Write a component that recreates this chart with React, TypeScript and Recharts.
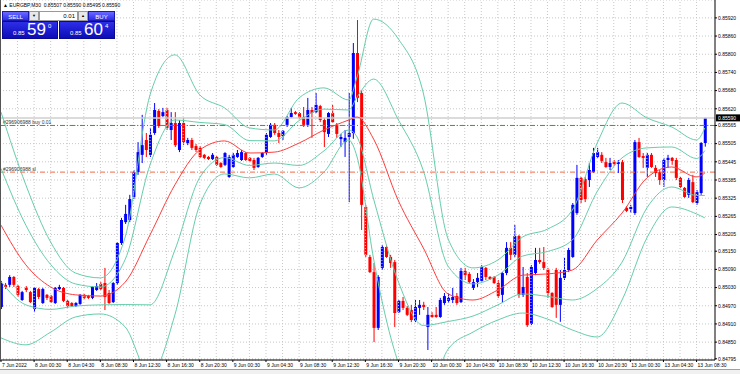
import React from 'react';
import { ComposedChart, Bar, Line, XAxis, YAxis, CartesianGrid, ReferenceLine } from 'recharts';

// Prices stored in points (1 = 0.00001)
const opens = [84966,85039,85039,85065,85035,84989,85029,85015,84959,85025,84979,85006,85002,84979,85025,85029,84986,84979,84969,84976,85006,85002,84996,85022,85042,85045,85012,84982,85045,85177,85246,85253,85329,85411,85468,85517,85468,85540,85613,85596,85616,85550,85573,85484,85573,85507,85517,85497,85491,85468,85461,85454,85461,85441,85435,85395,85428,85461,85451,85474,85458,85451,85428,85461,85474,85527,85567,85540,85530,85567,85593,85609,85606,85593,85567,85616,85609,85629,85583,85537,85606,85567,85520,85510,85527,85540,85804,85672,85296,85131,85081,84897,85095,85164,85131,85114,84949,84986,84963,84956,84920,84963,84973,84900,84940,84940,84933,84979,84986,84989,85002,84982,85085,85075,85029,85048,85052,85095,85065,85065,85045,85006,85078,85161,85138,85200,85006,85065,84910,85078,85121,85114,85088,85012,85088,84973,85062,85088,85131,85276,85392,85388,85385,85411,85461,85468,85444,85428,85444,85438,85444,85293,85289,85276,85510,85464,85425,85468,85425,85411,85385,85451,85458,85451,85392,85359,85336,85378,85309,85342,85507];
const highs = [85052,85045,85071,85068,85039,85019,85035,85019,85032,85029,85029,85009,85006,85032,85039,85032,84989,84982,84982,85009,85009,85006,85035,85045,85048,85095,85022,85048,85180,85260,85303,85336,85418,85510,85600,85540,85557,85639,85619,85623,85623,85609,85609,85583,85590,85524,85524,85504,85497,85471,85464,85474,85464,85444,85477,85468,85474,85484,85484,85477,85461,85458,85461,85477,85540,85573,85573,85550,85550,85596,85623,85613,85609,85626,85656,85626,85672,85633,85590,85609,85633,85573,85537,85550,85672,85837,85913,85682,85303,85138,85111,85071,85171,85171,85138,85121,84989,84999,84969,84973,84989,84989,84983,84966,84949,84966,84996,85012,85012,85029,85012,85095,85095,85081,85058,85078,85104,85098,85068,85068,85055,85081,85180,85180,85237,85204,85098,85078,85104,85161,85161,85164,85095,85015,85095,85088,85128,85161,85309,85435,85395,85395,85441,85491,85491,85477,85458,85458,85451,85451,85451,85299,85303,85517,85524,85474,85474,85474,85434,85418,85458,85468,85461,85458,85395,85362,85392,85402,85352,85510,85590];
const lows = [84959,85025,85032,85032,84999,84986,85015,84979,84949,84992,84976,84989,84979,84976,85022,84982,84963,84966,84966,84973,84992,84992,84992,85019,85022,84956,84976,84979,85039,85171,85240,85246,85322,85402,85441,85461,85461,85534,85557,85593,85550,85517,85494,85477,85500,85500,85484,85477,85458,85454,85451,85451,85431,85425,85431,85392,85425,85458,85448,85448,85444,85418,85425,85458,85468,85524,85534,85507,85517,85560,85590,85600,85586,85560,85560,85524,85606,85576,85494,85527,85573,85524,85494,85461,85312,85521,85642,85220,85131,85078,84850,84890,85088,85128,85095,84900,84946,84956,84936,84916,84916,84940,84956,84824,84930,84930,84930,84973,84979,84979,84973,84979,85055,85045,85022,85032,85048,85055,85055,85042,84996,84979,85071,85121,85131,84996,84999,84900,84906,85071,85108,85088,84996,84963,84930,84917,85055,85081,85128,85270,85309,85312,85362,85408,85458,85441,85425,85418,85431,85408,85309,85279,85276,85270,85458,85425,85395,85425,85395,85369,85362,85425,85435,85385,85359,85326,85326,85309,85303,85336,85495];
const closes = [85045,85032,85065,85039,85006,85015,85022,84982,85029,84999,85025,84996,84982,85029,85032,84986,84969,84969,84979,85006,84996,84996,85032,85035,85025,84999,84979,85045,85177,85253,85273,85322,85411,85477,85500,85484,85534,85616,85563,85609,85557,85573,85500,85573,85510,85517,85491,85484,85461,85458,85454,85468,85435,85428,85474,85461,85468,85474,85477,85451,85448,85425,85458,85474,85534,85567,85540,85527,85547,85593,85606,85603,85590,85567,85616,85606,85633,85583,85543,85606,85576,85537,85527,85524,85540,85804,85656,85303,85138,85081,84897,85065,85164,85131,85111,84946,84986,84963,84940,84923,84966,84973,84966,84940,84933,84933,84989,85002,84996,84999,84979,85085,85071,85048,85048,85062,85098,85065,85058,85045,85002,85078,85161,85138,85200,85006,85032,84906,85098,85121,85114,85095,85012,84966,84973,85062,85088,85154,85303,85392,85319,85322,85418,85474,85477,85448,85428,85441,85438,85444,85319,85283,85296,85510,85461,85458,85468,85428,85408,85385,85451,85458,85448,85392,85362,85329,85385,85312,85345,85507,85590];

// Indicator readings (bar index -> price points)
const bandIdx = [0,6,12,18,24,30,36,42,48,54,60,66,72,78,84,86,90,96,102,108,114,120,126,132,138,144,150,156,162,168,170];
const upper2 = [85609,85369,85180,85078,85062,85197,85666,85798,85666,85623,85557,85550,85656,85689,85649,85725,85916,85850,85672,85190,85095,85121,85197,85223,85286,85507,85639,85590,85560,85517,85557];
const upper1 = [85423,85236,85106,85042,85032,85123,85435,85583,85575,85568,85515,85514,85581,85619,85616,85659,85718,85583,85416,85100,85042,85071,85134,85149,85187,85347,85458,85491,85494,85456,85482];
const middle = [85236,85105,85032,85006,85002,85048,85204,85369,85484,85514,85474,85477,85507,85550,85583,85593,85520,85316,85161,85009,84989,85022,85071,85075,85088,85187,85276,85392,85428,85395,85408];
const lower1 = [85050,84973,84958,84969,84973,84974,84973,85154,85393,85459,85433,85441,85433,85481,85550,85527,85322,85048,84905,84918,84936,84973,85009,85001,84989,85027,85114,85293,85362,85334,85334];
const lower2 = [84864,84841,84883,84933,84943,84900,84742,84940,85303,85405,85392,85405,85359,85411,85517,85461,85124,84781,84649,84827,84883,84923,84946,84926,84890,84867,84989,85194,85296,85273,85260];

const timeTicks = [0,8,16,24,32,40,48,56,64,72,80,88,96,104,112,120,128,136,144,152,160,168];
const timeLabels = ['7 Jun 2022','8 Jun 00:30','8 Jun 04:30','8 Jun 08:30','8 Jun 12:30','8 Jun 16:30','8 Jun 20:30','9 Jun 00:30','9 Jun 04:30','9 Jun 08:30','9 Jun 12:30','9 Jun 16:30','9 Jun 20:30','10 Jun 00:30','10 Jun 04:30','10 Jun 08:30','10 Jun 12:30','10 Jun 16:30','10 Jun 20:30','13 Jun 00:30','13 Jun 04:30','13 Jun 08:30'];
const gridTicks = [4,8,12,16,20,24,28,32,36,40,44,48,52,56,60,64,68,72,76,80,84,88,92,96,100,104,108,112,116,120,124,128,132,136,140,144,148,152,156,160,164,168];
const priceTicks = [85920,85860,85800,85740,85680,85620,85565,85505,85445,85385,85325,85265,85205,85150,85090,85030,84970,84910,84850,84795];

const bidPrice = 85590;
const buyPrice = 85565;
const slPrice = 85411;
const symbolTitle = 'EURGBP,M30  0.85507 0.85590 0.85495 0.85590';

const candles = opens.map((o, i) => ({ i, o, h: highs[i], l: lows[i], c: closes[i], range: [lows[i], highs[i]] }));
const bands = bandIdx.map((i, j) => ({ i, u2: upper2[j], u1: upper1[j], m: middle[j], l1: lower1[j], l2: lower2[j] }));

const FONT = '"Liberation Sans", Arial, sans-serif';
const fmt = (v: number) => (v / 100000).toFixed(5);

const Candle = (props: any) => {
  const { x, y, width, height, payload } = props;
  if (x == null || y == null || !payload) return null;
  const { o, h, l, c } = payload;
  const up = c >= o;
  const color = up ? '#0000ff' : '#ff0000';
  const k = h === l ? 0 : height / (h - l);
  const yo = y + (h - o) * k;
  const yc = y + (h - c) * k;
  const top = Math.min(yo, yc);
  const bh = Math.max(1, Math.abs(yc - yo));
  const cx = x + width / 2;
  return (
    <g>
      <line x1={cx} x2={cx} y1={y} y2={y + height} stroke={color} strokeWidth={1} />
      <rect x={x} y={top} width={width} height={bh} fill={color} />
    </g>
  );
};

const PriceTick = (props: any) => {
  const { x, y, payload } = props;
  return (
    <text x={x} y={y + 1.8} fontSize={5} fill="#000" fontFamily={FONT} textAnchor="start">
      {fmt(payload.value)}
    </text>
  );
};

const TimeTick = (props: any) => {
  const { x, y, payload } = props;
  const idx = timeTicks.indexOf(payload.value);
  return (
    <text x={x + 1} y={y + 3.5} fontSize={5} fill="#000" fontFamily={FONT} textAnchor="start">
      {idx >= 0 ? timeLabels[idx] : ''}
    </text>
  );
};

const BidLabel = (props: any) => {
  const vb = props.viewBox || {};
  const x = (vb.x || 0) + (vb.width || 0) + 1;
  const y = vb.y || 0;
  return (
    <g>
      <rect x={x} y={y - 3.5} width={24} height={7} fill="#000" />
      <text x={x + 2} y={y + 1.8} fontSize={5} fill="#fff" fontFamily={FONT}>{fmt(bidPrice)}</text>
    </g>
  );
};

const orderLabel = (text: string) => (props: any) => {
  const vb = props.viewBox || {};
  return (
    <text x={(vb.x || 0) + 3} y={(vb.y || 0) - 1.5} fontSize={5} fill="#333" fontFamily={FONT}>{text}</text>
  );
};

const btn: React.CSSProperties = {
  position: 'absolute', top: 0, height: 10, color: '#fff', fontSize: 6, lineHeight: '10px', textAlign: 'center',
  background: 'linear-gradient(#6a6aff, #2c2cf0)', boxSizing: 'border-box', border: '1px solid #1a1ab0',
};
const priceBox: React.CSSProperties = {
  position: 'absolute', top: 10, height: 18, color: '#fff', background: 'linear-gradient(#2e2ee8, #0c0cb8)',
  boxSizing: 'border-box', border: '1px solid #0a0a90',
};

export default function App() {
  return (
    <div style={{ position: 'absolute', left: 0, top: 0, width: 740, height: 374, background: '#fff', overflow: 'hidden', fontFamily: FONT }}>
      <ComposedChart width={740} height={374} data={candles} margin={{ top: 0, right: 0, left: 0, bottom: 0 }}>
        <CartesianGrid vertical={false} stroke="#c8c8c8" strokeDasharray="1 2" />
        {gridTicks.map((g) => (
          <ReferenceLine key={'g' + g} x={g} stroke="#c8c8c8" strokeDasharray="1 2" ifOverflow="hidden" />
        ))}
        <XAxis
          type="number" dataKey="i" domain={[-0.24, 172.45]} allowDataOverflow ticks={timeTicks} interval={0}
          tick={<TimeTick />} height={14} axisLine={{ stroke: '#000' }} tickLine={{ stroke: '#000' }} tickSize={2} tickMargin={1}
        />
        <YAxis
          orientation="right" type="number" domain={[84791, 85979]} allowDataOverflow ticks={priceTicks} interval={0}
          tick={<PriceTick />} width={25} axisLine={{ stroke: '#000' }} tickLine={{ stroke: '#000' }} tickSize={2} tickMargin={1}
        />
        <ReferenceLine y={bidPrice} stroke="#cfcfcf" strokeWidth={1.5} label={<BidLabel />} />
        <ReferenceLine y={buyPrice} stroke="#3c9a3c" strokeDasharray="5 2 1 2" label={orderLabel('#296906988 buy 0.01')} />
        <ReferenceLine y={slPrice} stroke="#f06a4a" strokeDasharray="5 2 1 2" label={orderLabel('#296906988 sl')} />
        <Bar dataKey="range" barSize={3} isAnimationActive={false} shape={(p: any) => <Candle {...p} />} />
        <Line data={bands} dataKey="u2" type="monotone" dot={false} stroke="#66cdaa" strokeWidth={1} isAnimationActive={false} />
        <Line data={bands} dataKey="u1" type="monotone" dot={false} stroke="#66cdaa" strokeWidth={1} isAnimationActive={false} />
        <Line data={bands} dataKey="m" type="monotone" dot={false} stroke="#ff3b3b" strokeWidth={1} isAnimationActive={false} />
        <Line data={bands} dataKey="l1" type="monotone" dot={false} stroke="#66cdaa" strokeWidth={1} isAnimationActive={false} />
        <Line data={bands} dataKey="l2" type="monotone" dot={false} stroke="#66cdaa" strokeWidth={1} isAnimationActive={false} />
      </ComposedChart>

      <div style={{ position: 'absolute', left: 0, top: 0, width: 1, height: 360, background: '#555' }} />
      <div style={{ position: 'absolute', left: 0, top: 369, width: 740, height: 5, background: '#f0f0f0', borderTop: '1px solid #a0a0a0' }} />

      <div style={{ position: 'absolute', left: 3, top: 2, fontSize: 5, lineHeight: '6px', color: '#000', whiteSpace: 'pre' }}>
        {'\u25B2 ' + symbolTitle}
      </div>

      <div style={{ position: 'absolute', left: 2, top: 11, width: 113, height: 28 }}>
        <div style={{ ...btn, left: 0, width: 27 }}>SELL</div>
        <div style={{ position: 'absolute', left: 27, top: 0, width: 10, height: 10, background: '#e8e8e8', border: '1px solid #999', boxSizing: 'border-box', fontSize: 4, lineHeight: '8px', textAlign: 'center', color: '#000' }}>{'\u25BC'}</div>
        <div style={{ position: 'absolute', left: 37, top: 0, width: 39, height: 10, background: '#fff', border: '1px solid #999', boxSizing: 'border-box', fontSize: 6, lineHeight: '8px', textAlign: 'right', paddingRight: 2, color: '#000' }}>0.01</div>
        <div style={{ position: 'absolute', left: 76, top: 0, width: 10, height: 10, background: '#e8e8e8', border: '1px solid #999', boxSizing: 'border-box', fontSize: 4, lineHeight: '8px', textAlign: 'center', color: '#000' }}>{'\u25B2'}</div>
        <div style={{ ...btn, left: 86, width: 27 }}>BUY</div>
        <div style={{ ...priceBox, left: 0, width: 56 }}>
          <span style={{ position: 'absolute', left: 10, top: 8, fontSize: 6 }}>0.85</span>
          <span style={{ position: 'absolute', left: 24, top: -1, fontSize: 17, lineHeight: '18px' }}>59</span>
          <span style={{ position: 'absolute', left: 45, top: 1, fontSize: 6 }}>0</span>
        </div>
        <div style={{ ...priceBox, left: 57, width: 56 }}>
          <span style={{ position: 'absolute', left: 10, top: 8, fontSize: 6 }}>0.85</span>
          <span style={{ position: 'absolute', left: 24, top: -1, fontSize: 17, lineHeight: '18px' }}>60</span>
          <span style={{ position: 'absolute', left: 45, top: 1, fontSize: 6 }}>4</span>
        </div>
      </div>
    </div>
  );
}
